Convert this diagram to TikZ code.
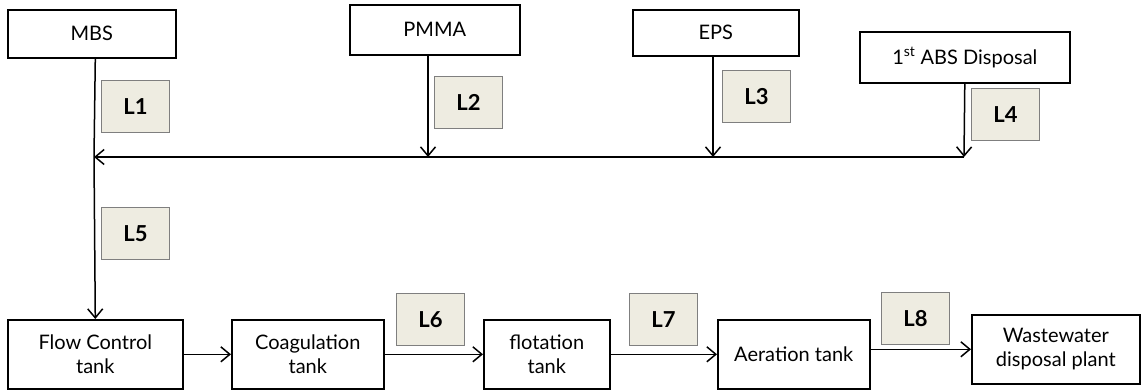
\documentclass[tikz,border=0pt]{standalone}
\usepackage{fontspec}
\setmainfont{Lato}
\usetikzlibrary{arrows.meta}
\definecolor{labfill}{HTML}{EEECE1}
\definecolor{labdraw}{HTML}{7F7F7F}
\tikzset{
  box/.style={draw=black, line width=1.6pt, fill=white, inner sep=0pt, anchor=north west, align=center,
    font=\fontsize{20}{24}\selectfont},
  lab/.style={draw=labdraw, line width=1pt, fill=labfill, inner sep=0pt, anchor=north west,
    minimum width=68pt, minimum height=52pt, font=\fontsize{22}{24}\selectfont\bfseries},
  flow/.style={line width=1.5pt, -{Straight Barb[length=9pt,width=15pt,line width=1.5pt]}},
  plain/.style={line width=1.5pt}
}
\begin{document}
\begin{tikzpicture}[x=1pt,y=-1pt]
\useasboundingbox (0,0) rectangle (1142,390);
% top boxes
\node[box, minimum width=168pt, minimum height=48pt] (mbs) at (7,9) {MBS};
\node[box, minimum width=170pt, minimum height=50pt] (pmma) at (349,4) {PMMA};
\node[box, minimum width=166pt, minimum height=46pt] (eps) at (632,9) {EPS};
\node[box, minimum width=210pt, minimum height=51pt] (abs) at (859,31) {1\textsuperscript{st} ABS Disposal};
% bottom boxes
\node[box, minimum width=175pt, minimum height=69pt] (fct) at (7,319) {Flow Control\\tank};
\node[box, minimum width=152pt, minimum height=69pt] (coag) at (231,319) {Coagulation\\tank};
\node[box, minimum width=126pt, minimum height=69pt] (flot) at (483,319) {flotation\\tank};
\node[box, minimum width=152pt, minimum height=69pt] (aer) at (717,319) {Aeration tank};
\node[box, minimum width=168pt, minimum height=69pt] (ww) at (971,314) {Wastewater\\disposal plant};
% labels
\node[lab] (l1) at (101,80) {L1};
\node[lab] (l2) at (434,76) {L2};
\node[lab] (l3) at (722,70) {L3};
\node[lab] (l4) at (971,88) {L4};
\node[lab] (l5) at (101,207) {L5};
\node[lab] (l6) at (396,293) {L6};
\node[lab] (l7) at (629,293) {L7};
\node[lab] (l8) at (881,292) {L8};
% junctions
\coordinate (j1) at (94,157);
\coordinate (j2) at (428,157);
\coordinate (j3) at (713,157);
\coordinate (j4) at (964,157);
% connectors
\draw[plain] (mbs.south -| fct.north) -- (j1);
\draw[flow] (j1) -- (fct.north);
\draw[flow] (pmma.south -| j2) -- (j2);
\draw[flow] (eps.south -| j3) -- (j3);
\draw[flow] (abs.south) -- (j4);
\draw[flow] (j4) -- (j1);
\draw[flow] (fct.east) -- (coag.west);
\draw[flow] (coag.east) -- (flot.west);
\draw[flow] (flot.east) -- (aer.west);
\draw[flow] (aer.east |- ww.west) -- (ww.west);
\end{tikzpicture}
\end{document}
